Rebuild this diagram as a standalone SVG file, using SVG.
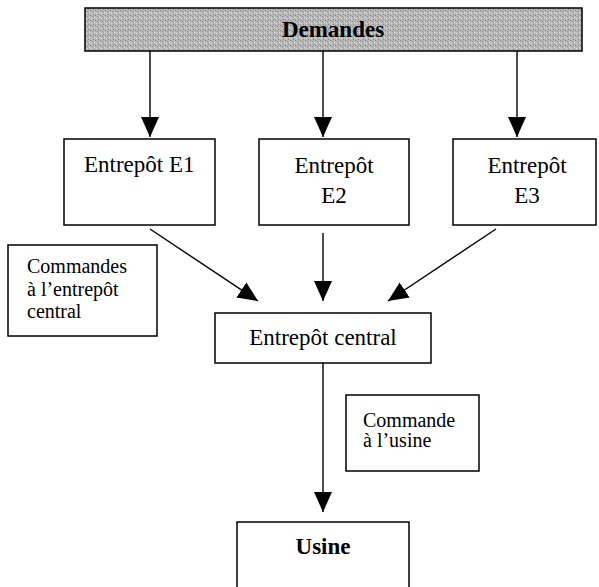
<svg xmlns="http://www.w3.org/2000/svg" width="599" height="587" viewBox="0 0 599 587">
<style>
.box{fill:#fff;stroke:#000;stroke-width:1.5}
.t{font-family:"Liberation Serif","Times New Roman",serif;font-size:23px;fill:#000}
.s{font-family:"Liberation Serif","Times New Roman",serif;font-size:20px;fill:#000}
.b{font-weight:bold}
.c{stroke:#000;stroke-width:1.4;fill:none;marker-end:url(#ah)}
</style>
<defs>
<marker id="ah" markerUnits="userSpaceOnUse" markerWidth="20" markerHeight="20" viewBox="0 0 20 18" refX="20" refY="9" orient="auto">
<path d="M0,0 L20,9 L0,18 Z" fill="#000"/>
</marker>
<pattern id="grain" width="5" height="5" patternUnits="userSpaceOnUse">
<rect width="5" height="5" fill="#b9b9b9"/>
<rect x="0" y="0" width="1" height="1" fill="#7d7d7d"/>
<rect x="2" y="1" width="1" height="1" fill="#8c8c8c"/>
<rect x="4" y="2" width="1" height="1" fill="#e2e2e2"/>
<rect x="1" y="3" width="1" height="1" fill="#d8d8d8"/>
<rect x="3" y="4" width="1" height="1" fill="#858585"/>
<rect x="3" y="2" width="1" height="1" fill="#a0a0a0"/>
</pattern>
</defs>

<g id="demandes">
<rect x="85" y="8" width="497" height="43" fill="url(#grain)" stroke="#000" stroke-width="1.5"/>
<text class="t b" x="333" y="37" text-anchor="middle">Demandes</text>
</g>

<g id="e1">
<rect class="box" x="64" y="139" width="151" height="86"/>
<text class="t" x="84" y="172">Entrepôt E1</text>
</g>

<g id="e2">
<rect class="box" x="259" y="139" width="150" height="86"/>
<text class="t" x="334" y="173" text-anchor="middle">Entrepôt</text>
<text class="t" x="334" y="203" text-anchor="middle">E2</text>
</g>

<g id="e3">
<rect class="box" x="453" y="139" width="143" height="86"/>
<text class="t" x="527" y="173" text-anchor="middle">Entrepôt</text>
<text class="t" x="527" y="203" text-anchor="middle">E3</text>
</g>

<g id="label-commandes">
<rect class="box" x="8" y="245" width="149" height="91"/>
<text class="s" x="27" y="273">Commandes</text>
<text class="s" x="27" y="296">à l’entrepôt</text>
<text class="s" x="27" y="318" font-size="19">central</text>
</g>

<g id="central">
<rect class="box" x="215" y="313" width="216" height="50"/>
<text class="t" x="323" y="345" text-anchor="middle">Entrepôt central</text>
</g>

<g id="label-commande">
<rect class="box" x="346" y="395" width="133" height="76"/>
<text class="s" x="363" y="427">Commande</text>
<text class="s" x="363" y="447">à l’usine</text>
</g>

<g id="usine">
<rect class="box" x="237" y="522" width="172" height="80"/>
<text class="t b" x="323" y="554" text-anchor="middle">Usine</text>
</g>

<g id="connectors">
<line class="c" x1="150" y1="51" x2="150" y2="137"/>
<line class="c" x1="323" y1="51" x2="323" y2="137"/>
<line class="c" x1="517" y1="51" x2="517" y2="137"/>
<line class="c" x1="150" y1="229" x2="258" y2="301"/>
<line class="c" x1="323" y1="233" x2="323" y2="301"/>
<line class="c" x1="496" y1="229" x2="388" y2="301"/>
<line class="c" x1="323" y1="363" x2="323" y2="512"/>
</g>
</svg>
